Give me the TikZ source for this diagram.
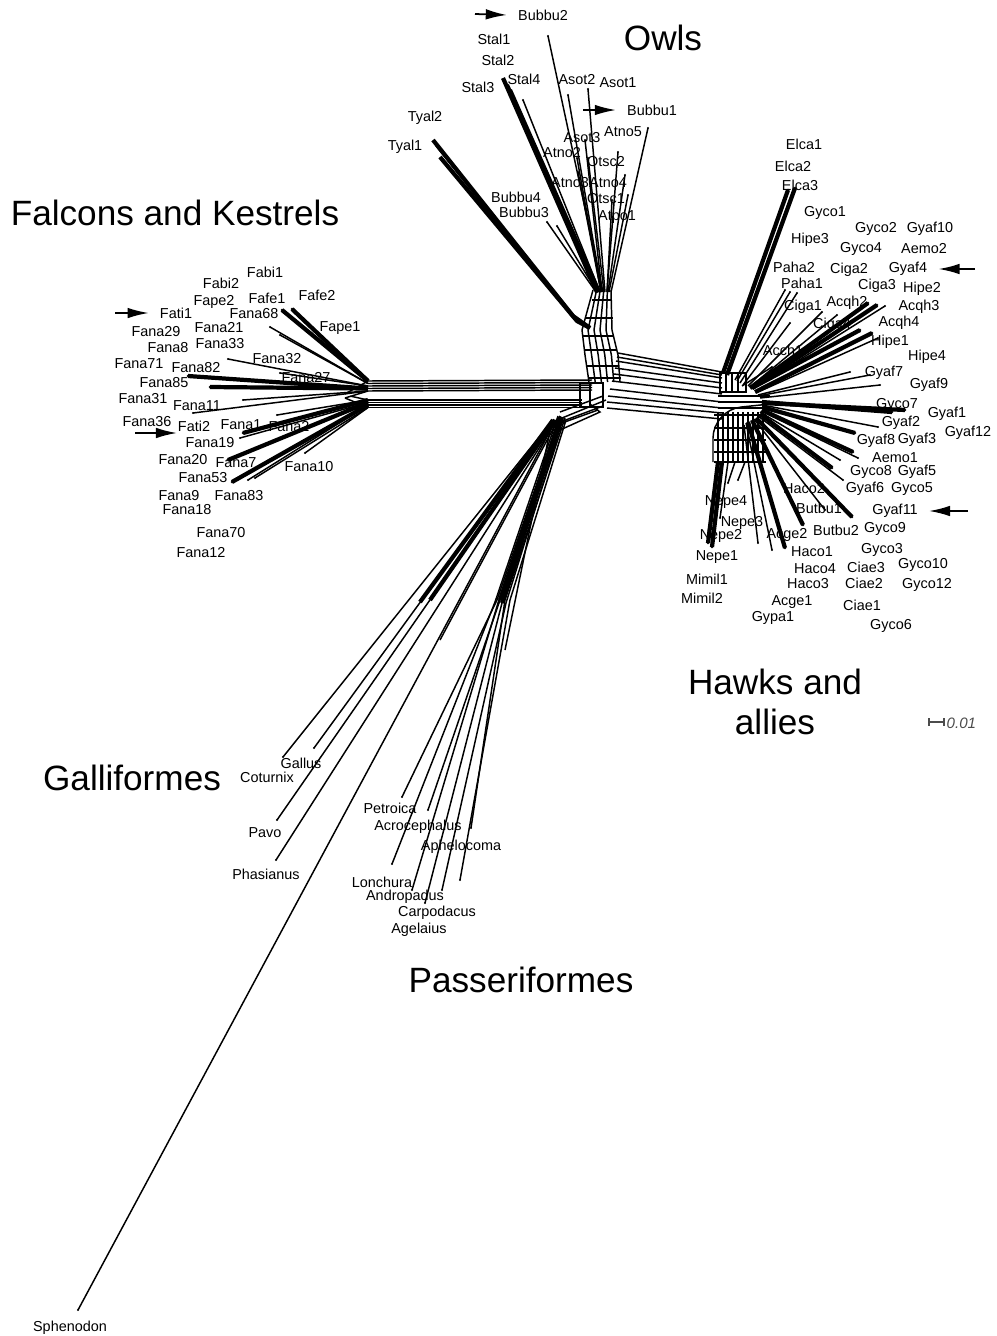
\documentclass[tikz,border=0pt]{standalone}
\usepackage{fontspec}
\setmainfont{Liberation Sans}
\usetikzlibrary{arrows.meta}
\begin{document}
\begin{tikzpicture}[x=0.01cm,y=-0.01cm,
  lab/.style={font=\fontsize{4.1}{4.9}\selectfont,inner sep=0pt},
  big/.style={font=\fontsize{10}{11}\selectfont,inner sep=0pt},
  ln/.style={line width=0.42pt},
  thk/.style={line width=1.2pt},
  arr/.style={-{Latex[length=6pt,width=3pt]},line width=0.5pt}]
\useasboundingbox (0,0) rectangle (997,1336);

% ---------- central network bands ----------
% left band (to falcons)
\foreach \i/\yy in {1/381,2/383.5,3/386,4/388.5,5/391}{
  \coordinate (FU\i) at (368,\yy);
  \draw[ln] (FU\i) -- (592,\yy-1);}
\foreach \i/\yy in {1/400,2/402.5,3/405,4/407.5}{
  \coordinate (FL\i) at (368,\yy);
  \draw[ln] (FL\i) -- (582,\yy);}
\draw[ln] (345,394) -- (368,381) (345,398) -- (368,391) (345,398) -- (368,407.5) (350,396) -- (368,400);
\draw[ln] (580,383) rectangle (603,407);
\draw[ln] (590,383) -- (590,407);
% owl band
\foreach \k in {0,...,5}
  \draw[ln] ({593+3.6*\k},290) -- ({582+6*\k},330) -- ({585+6.6*\k},355) -- ({589+6.2*\k},382);
\foreach \yy/\xa/\xb in {300/592/612,318/586/613,336/582/614,350/584/617,366/586/619,378/588/621}
  \draw[ln] (\xa,\yy) -- (\xb,\yy);
% right band (to hawks)
\foreach \xa/\ya/\yb in {618/353/372,617/357/375,616/361/378,615/368/383,614/374/388,612/381/394,610/389/402,608/396/408,607/402/413,607/408/419}
  \draw[ln] (\xa,\ya) -- (722,\yb);
% lower link (to passeriformes / galliformes)
\foreach \xa/\ya/\xb/\yb in {603/396/560/412,606/400/562/418,603/406/555/424,598/410/548/428}
  \draw[ln] (\xa,\ya) -- (\xb,\yb);
\draw[ln] (590,404) -- (600,412) -- (560,430);
% hawk hub
\draw[ln] (720,373) rectangle (746,392);
\foreach \xx in {726,732,738} \draw[ln] (\xx,373) -- (\xx,392);
\foreach \yy in {396,402,408} \draw[ln] (718,\yy) -- (770,\yy);
\draw[ln,rounded corners=8] (713,462) -- (713,410) -- (770,404);
\foreach \xx in {718,723,728,733,738,743,748,753,758,763} \draw[ln] (\xx,412) -- (\xx,462);
\foreach \yy in {415,428,440,452,462} \draw[ln] (714,\yy) -- (766,\yy);

% ---------- owls ----------
\foreach \n/\tx/\ty/\bx/\by in {o1/548/36/603/292,o4/514/100/599/292,o5/523/100/600/292,
  o6/568/95/602/292,o7/588/89/605/292,o8/648/128/611/292,o9/585/140/602/292,o10/577/158/601/292,
  o11/588/158/604/292,o12/618/152/607/292,o13/578/172/601/292,o14/625/175/608/292,
  o15/584/200/602/292,o16/612/200/607/292,o17/628/195/609/292,o18/547/222/596/292,o19/557/226/597/292}{
  \coordinate (t\n) at (\tx,\ty); \coordinate (b\n) at (\bx,\by);
  \draw[ln] (b\n) -- (t\n); \fill (t\n) circle[radius=1.1];}
\foreach \n/\tx/\ty/\bx/\by in {o2/503/78/597/292,o3/507/85/598/292,o20/510/90/599/292}{
  \coordinate (t\n) at (\tx,\ty); \coordinate (b\n) at (\bx,\by);
  \draw[thk] (b\n) -- (t\n);}
% Tyal branch
\coordinate (tTy1) at (433,140); \coordinate (tTy2) at (440,157);
\coordinate (bTy1) at (573,316); \coordinate (bTy2) at (577,321); \coordinate (jTy) at (590,328);
\draw[thk] (tTy1) -- (bTy1) -- (jTy);
\draw[thk] (tTy2) -- (bTy2) -- (jTy);
\draw[ln] (436,146) -- (575,318);

% ---------- falcons ----------
\foreach \n/\tx/\ty/\b in {f3/270/327/FU2,f4/280/335/FU2,f5/228/359/FU3,f6/280/373/FU3,
  f9/193/413/FU5,f10/243/400/FU5,f12/277/415/FL1,f13/240/438/FL2,f16/248/480/FL3,
  f17/255/478/FL4,f18/305/453/FL4}{
  \coordinate (t\n) at (\tx,\ty);
  \draw[ln] (\b) -- (t\n); \fill (t\n) circle[radius=1.1];}
\foreach \n/\tx/\ty/\b in {f1/282/310/FU1,f2/292/309/FU1,f7/188/376/FU4,f8/210/387/FU4,
  f11/243/433/FL1,f14/228/460/FL2,f15/232/482/FL3}{
  \coordinate (t\n) at (\tx,\ty);
  \draw[thk] (\b) -- (t\n); \fill (t\n) circle[radius=1.3];}

% ---------- hawks ----------
\foreach \n/\tx/\ty/\bx/\by in {h3/785/290/735/380,h4/790/292/737/381,h5/797/293/740/383,
  h6/790/323/743/385,h7/772/367/742/386,h8/822/312/748/386,h9/837/315/750/387,h13/885/306/753/389,
  h15/878/338/756/393,h16/850/372/758/395,h17/870/375/758/396,h18/880/385/760/398,
  h21/878/427/762/405,h24/858/458/761/411,h25/840/460/760/412,h27/843/480/758/416,
  h29/825/510/754/419,h32/772/550/746/423,h33/758/543/744/425,
  h34/738/480/745/462,h35/728/483/735/462,h36/720/518/728/462}{
  \coordinate (t\n) at (\tx,\ty); \coordinate (b\n) at (\bx,\by);
  \draw[ln] (b\n) -- (t\n); \fill (t\n) circle[radius=1.1];}
\foreach \n/\tx/\ty/\bx/\by in {h1/788/190/723/373,h2/795/188/727/375,h10/860/330/752/388,
  h11/868/303/750/388,h12/877/305/752/388,h14/872/333/755/392,h19/892/412/762/402,
  h20/905/410/762/403,h22/855/433/762/407,h23/853/452/762/410,h26/832/468/760/414,
  h28/852/517/756/418,h30/803/525/752/420,h31/785/548/748/422,h37/712/547/722/462,h38/708/543/718/462}{
  \coordinate (t\n) at (\tx,\ty); \coordinate (b\n) at (\bx,\by);
  \draw[thk] (b\n) -- (t\n); \fill (t\n) circle[radius=1.3];}

% ---------- passeriformes ----------
\foreach \n/\tx/\ty/\vx/\vy/\bx/\by in {p1/402/797/497/600/560/416,p2/428/810/500/600/562/417,
  p3/471/828/505/600/565/418,p4/392/864/495/602/558/416,p5/412/890/498/603/559/417,
  p6/425/903/502/603/561/418,p7/442/890/506/603/563/419,p8/460/880/510/600/566/420}{
  \coordinate (t\n) at (\tx,\ty); \coordinate (v\n) at (\vx,\vy); \coordinate (b\n) at (\bx,\by);
  \draw[ln] (b\n) -- (v\n) -- (t\n); \fill (t\n) circle[radius=1.1];}
\draw[thk] (bp2) -- (vp2); \draw[thk] (bp6) -- (vp6);
% ---------- galliformes & Sphenodon ----------
\foreach \n/\tx/\ty/\bx/\by in {g1/314/748/553/420,g2/283/757/552/421,g3/277/820/555/420,
  g4/276/860/557/420,g5/78/1310/556/420}{
  \coordinate (t\n) at (\tx,\ty); \coordinate (b\n) at (\bx,\by);
  \draw[ln] (b\n) -- (t\n); \fill (t\n) circle[radius=1.1];}
\draw[thk] (bg1) -- (420,602); \draw[thk] (bg3) -- (430,600);
\draw[ln] (bg2) -- (505,650); \draw[ln] (bp1) -- (440,640);

% ---------- labels ----------
\foreach \t/\x/\y in {Bubbu2/543/15,Stal1/494/39,Stal2/498/60,Stal3/478/87,Stal4/524/79,
  Asot2/577/80,Asot1/618/83,Bubbu1/652/110,Atno5/623/132,Asot3/582/138,Atno2/562/153,
  Otsc2/606/162,Atno3/570/183,Atno4/608/183,Otsc1/606/199,Atpo1/617/217,Bubbu4/516/197,
  Bubbu3/524/212,Tyal2/425/118,Tyal1/405/147,
  Fabi2/221/283,Fabi1/265/272,Fape2/214/302,Fafe1/267/298,Fafe2/317/295,Fati1/176/313,
  Fana68/254/314,Fape1/340/328,Fana29/156/332,Fana21/219/328,Fana8/168/348,Fana33/220/344,
  Fana71/139/364,Fana82/196/368,Fana32/277/359,Fana85/164/383,Fana27/306/378,Fana31/143/399,
  Fana11/197/406,Fana36/147/422,Fati2/194/426,Fana1/241/425,Fana2/289/427,Fana19/210/443,
  Fana20/183/460,Fana7/236/463,Fana10/309/467,Fana53/203/478,Fana9/179/496,Fana83/239/496,
  Fana18/187/510,Fana70/221/533,Fana12/201/553,
  Elca1/804/144,Elca2/793/166,Elca3/800/185,Gyco1/825/213,Gyco2/876/229,Gyaf10/930/229,
  Hipe3/810/240,Gyco4/861/249,Aemo2/924/249,Paha2/794/267,Ciga2/849/270,Gyaf4/908/269,
  Paha1/802/283,Ciga3/877/286,Hipe2/922/289,Ciga1/803/307,Acqh2/847/303,Acqh3/919/307,
  Ciga4/832/325,Acqh4/899/323,Hipe1/890/342,Acch1/783/350,Hipe4/927/357,Gyaf7/884/373,
  Gyaf9/929/385,Gyco7/897/405,Gyaf1/947/414,Gyaf2/901/423,Gyaf12/968/433,Gyaf8/876/441,
  Gyaf3/917/440,Aemo1/895/458,Gyco8/871/472,Gyaf5/917/472,Haco2/804/489,Gyaf6/865/489,
  Gyco5/912/489,Butbu1/819/508,Gyaf11/895/511,Nepe4/726/502,Nepe3/742/523,Butbu2/836/530,
  Gyco9/885/529,Nepe2/721/536,Acge2/787/535,Haco1/812/552,Gyco3/882/550,Nepe1/717/557,
  Haco4/815/569,Ciae3/866/567,Gyco10/923/565,Mimil1/707/579,Haco3/808/584,Ciae2/864/583,
  Gyco12/927/585,Mimil2/702/598,Acge1/792/602,Ciae1/862/605,Gypa1/773/618,Gyco6/891/626,
  Gallus/301/763,Coturnix/267/777,Pavo/265/833,Phasianus/266/874,Petroica/390/808,
  Acrocephalus/418/827,Aphelocoma/461/847,Lonchura/382/882,Andropadus/405/897,
  Carpodacus/437/913,Agelaius/419/930,Sphenodon/70/1328}
  \node[lab] (L\t) at (\x,\y) {\t};

\node[big] (Owls) at (663,38) {Owls};
\node[big] (Falc) at (175,213) {Falcons and Kestrels};
\node[big] (Hawk1) at (775,682) {Hawks and};
\node[big] (Hawk2) at (775,722) {allies};
\node[big] (Galli) at (132,778) {Galliformes};
\node[big] (Passer) at (521,980) {Passeriformes};

% ---------- arrows ----------
\coordinate (aB2) at (475,14);  \draw[arr] (aB2) -- ([xshift=-3pt]LBubbu2.west);
\coordinate (aB1) at (583,110); \draw[arr] (aB1) -- ([xshift=-3pt]LBubbu1.west);
\coordinate (aF1) at (115,313); \draw[arr] (aF1) -- ([xshift=-3pt]LFati1.west);
\coordinate (aF2) at (135,433); \draw[arr] (aF2) -- (177,433);
\coordinate (aG4) at (975,269); \draw[arr] (aG4) -- ([xshift=3pt]LGyaf4.east);
\coordinate (aG11) at (968,511); \draw[arr] (aG11) -- ([xshift=3pt]LGyaf11.east);

% ---------- scale bar ----------
\coordinate (s1) at (929,722); \coordinate (s2) at (944,722);
\draw[line width=0.4pt,black!70] (s1) -- (s2);
\draw[line width=0.4pt,black!70] (929,718) -- (929,726) (944,718) -- (944,726);
\node[lab,font=\fontsize{4.3}{5}\selectfont\itshape,text=black!70,anchor=west] (sc) at (946,723) {0.01};
\end{tikzpicture}
\end{document}
